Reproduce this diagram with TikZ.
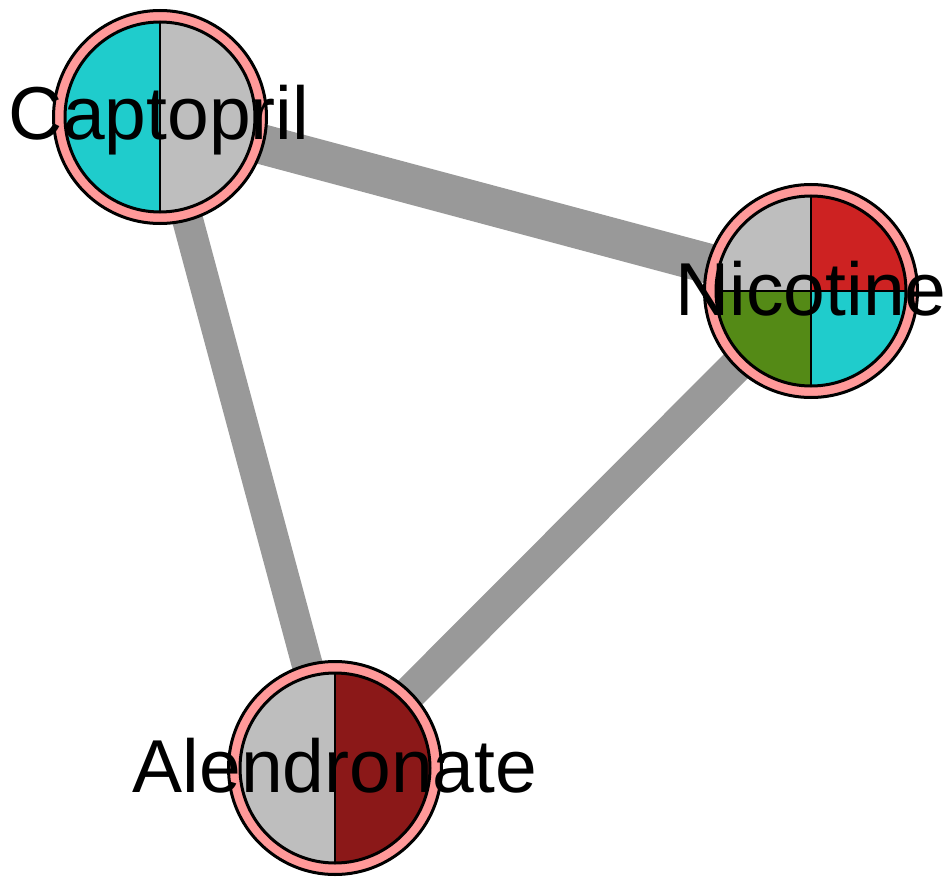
\documentclass[tikz,border=0pt]{standalone}
\usepackage{fontspec}
\setmainfont{Liberation Sans}
\usetikzlibrary{backgrounds}
\definecolor{ringpink}{RGB}{255,153,153}
\definecolor{edgegray}{RGB}{153,153,153}
\definecolor{piegray}{RGB}{190,190,190}
\definecolor{piecyan}{RGB}{31,204,204}
\definecolor{piered}{RGB}{205,34,34}
\definecolor{piegreen}{RGB}{84,138,22}
\definecolor{piedark}{RGB}{139,24,24}
\tikzset{
  ringnode/.style={circle, inner sep=0pt, minimum size=213pt, fill=ringpink, draw=black, line width=3pt},
  edgeline/.style={draw=edgegray, line cap=butt},
  divider/.style={draw=black, line width=2.5pt},
  innerrim/.style={draw=black, line width=3pt},
  lbl/.style={anchor=base, inner sep=0pt, font=\fontsize{75}{80}\selectfont}
}
\begin{document}
\begin{tikzpicture}[x=1pt,y=-1pt]
\useasboundingbox (0,0) rectangle (951,880);
% nodes (outer rings)
\node[ringnode] (cap) at (160,117) {};
\node[ringnode] (nic) at (811,291) {};
\node[ringnode] (ale) at (335,768) {};
% edges behind
\begin{pgfonlayer}{background}
\draw[edgeline, line width=40pt] (cap.center) -- (nic.center);
\draw[edgeline, line width=31pt] (cap.center) -- (ale.center);
\draw[edgeline, line width=34pt] (nic.center) -- (ale.center);
\end{pgfonlayer}
% Captopril pie
\begin{scope}[shift={(160,117)}]
  \begin{scope}
    \clip (0,0) circle[radius=95];
    \fill[piecyan] (-100,-100) rectangle (0,100);
    \fill[piegray] (0,-100) rectangle (100,100);
  \end{scope}
  \draw[divider] (0,-95) -- (0,95);
  \draw[innerrim] (0,0) circle[radius=95];
\end{scope}
% Nicotine pie
\begin{scope}[shift={(811,291)}]
  \begin{scope}
    \clip (0,0) circle[radius=95];
    \fill[piegray] (-100,-100) rectangle (0,0);
    \fill[piered] (0,-100) rectangle (100,0);
    \fill[piegreen] (-100,0) rectangle (0,100);
    \fill[piecyan] (0,0) rectangle (100,100);
  \end{scope}
  \draw[divider] (0,-95) -- (0,95);
  \draw[divider] (-95,0) -- (95,0);
  \draw[innerrim] (0,0) circle[radius=95];
\end{scope}
% Alendronate pie
\begin{scope}[shift={(335,768)}]
  \begin{scope}
    \clip (0,0) circle[radius=95];
    \fill[piegray] (-100,-100) rectangle (0,100);
    \fill[piedark] (0,-100) rectangle (100,100);
  \end{scope}
  \draw[divider] (0,-95) -- (0,95);
  \draw[innerrim] (0,0) circle[radius=95];
\end{scope}
% labels
\node[lbl] (capl) at (159,140) {Captopril};
\node[lbl] (nicl) at (811,315) {Nicotine};
\node[lbl] (alel) at (335,792) {Alendronate};
\end{tikzpicture}
\end{document}
